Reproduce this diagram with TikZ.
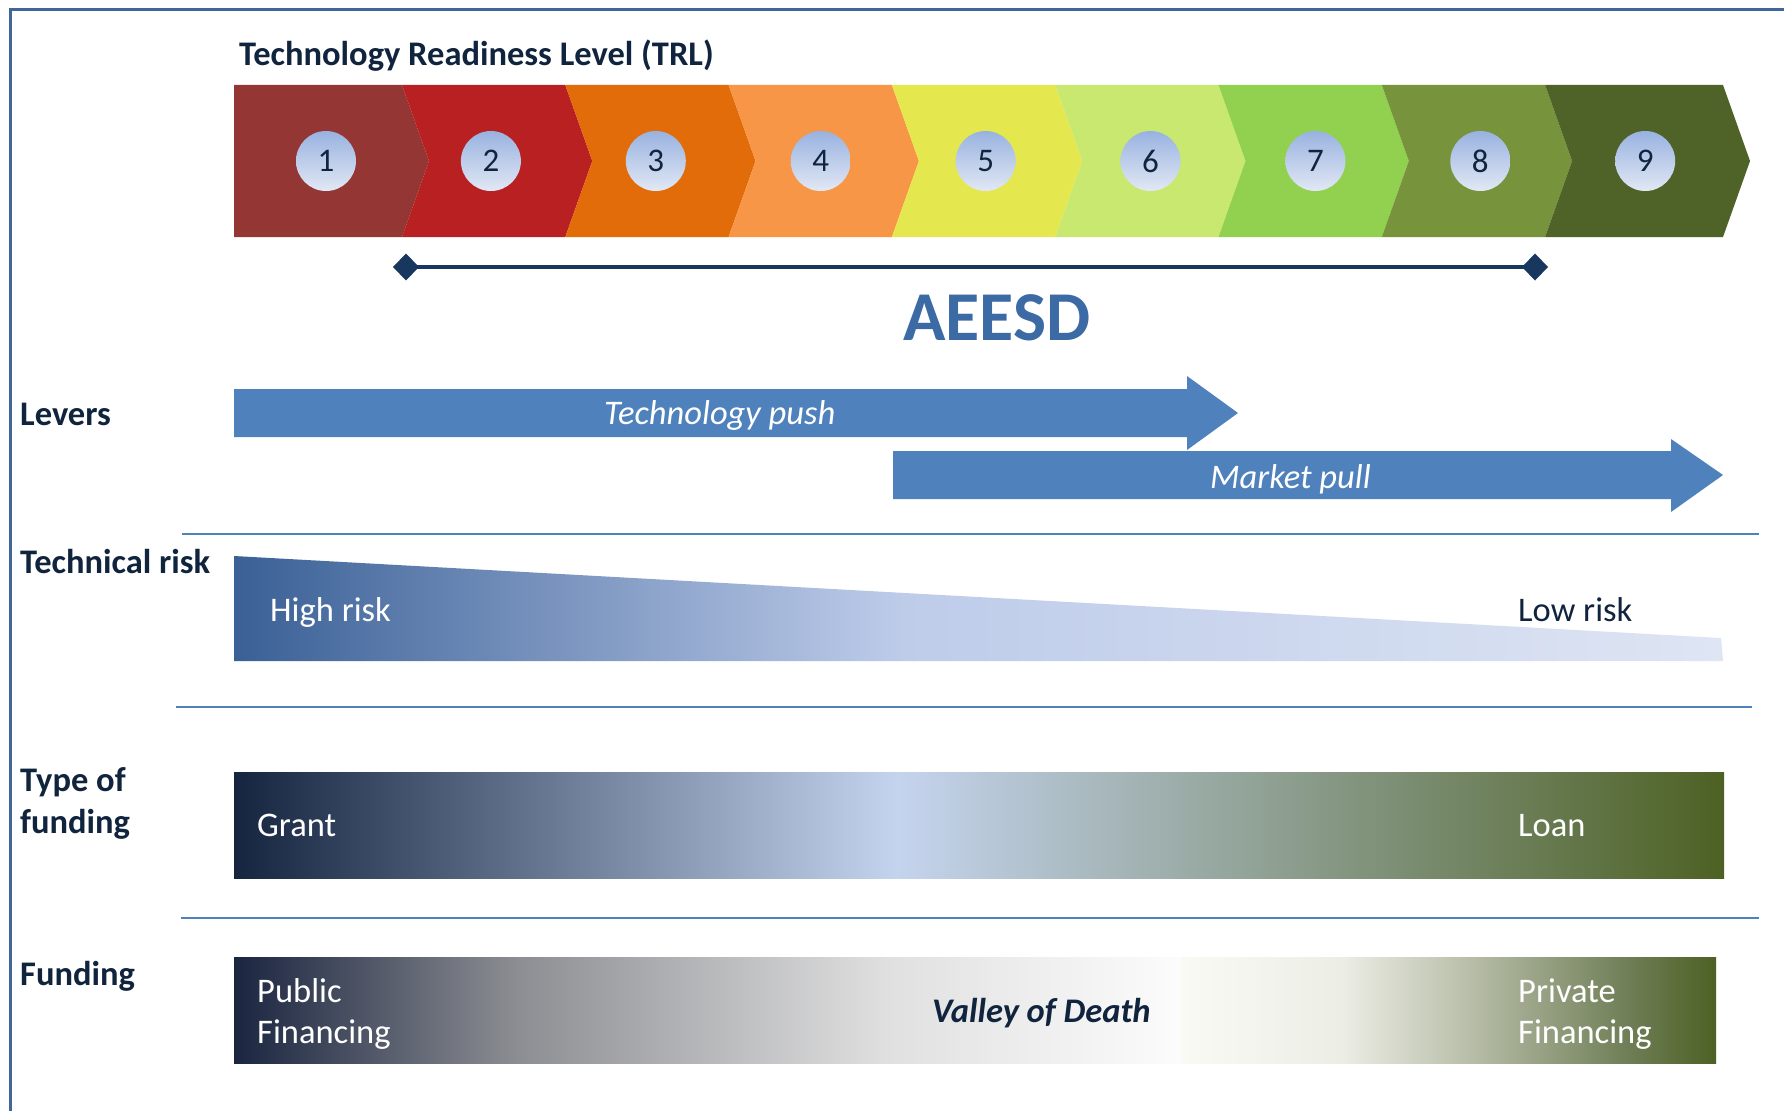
\documentclass[tikz,border=0pt]{standalone}
\usepackage{fontspec}
\setmainfont{Carlito}
\usetikzlibrary{arrows.meta}
\definecolor{frameblue}{RGB}{65,103,154}
\definecolor{navytext}{RGB}{16,36,62}
\definecolor{linenavy}{RGB}{23,55,94}
\definecolor{arrowblue}{RGB}{79,129,189}
\definecolor{aeesdblue}{RGB}{59,106,165}
\definecolor{chA}{RGB}{148,54,52}
\definecolor{chB}{RGB}{185,32,34}
\definecolor{chC}{RGB}{227,108,10}
\definecolor{chD}{RGB}{247,150,70}
\definecolor{chE}{RGB}{228,232,78}
\definecolor{chF}{RGB}{201,232,111}
\definecolor{chG}{RGB}{146,208,80}
\definecolor{chH}{RGB}{119,147,60}
\definecolor{chI}{RGB}{79,98,40}
\definecolor{circTop}{RGB}{152,178,224}
\definecolor{circBot}{RGB}{226,232,244}
% technical risk
\definecolor{trA}{RGB}{58,96,150}
\definecolor{trB}{RGB}{190,204,234}
\definecolor{trC}{RGB}{222,229,243}
\pgfdeclarehorizontalshading{riskshade}{100bp}{color(0bp)=(trA); color(25bp)=(trA); color(47.5bp)=(trB); color(75bp)=(trC); color(100bp)=(trC)}
% type of funding
\definecolor{tfA}{RGB}{21,36,63}
\definecolor{tfB}{RGB}{197,212,238}
\definecolor{tfC}{RGB}{77,97,36}
\pgfdeclarehorizontalshading{fundtype}{100bp}{color(0bp)=(tfA); color(25bp)=(tfA); color(47.25bp)=(tfB); color(75bp)=(tfC); color(100bp)=(tfC)}
% funding public part
\definecolor{puA}{RGB}{26,37,64}
\definecolor{puB}{RGB}{141,142,147}
\definecolor{puC}{RGB}{224,224,224}
\definecolor{puD}{RGB}{252,252,252}
\pgfdeclarehorizontalshading{pubshade}{100bp}{color(0bp)=(puA); color(25bp)=(puA); color(40bp)=(puB); color(59.5bp)=(puC); color(75bp)=(puD); color(100bp)=(puD)}
% funding private part
\definecolor{prA}{RGB}{249,250,244}
\definecolor{prB}{RGB}{236,237,229}
\definecolor{prC}{RGB}{190,195,175}
\definecolor{prD}{RGB}{110,125,85}
\definecolor{prE}{RGB}{77,97,36}
\pgfdeclarehorizontalshading{privshade}{100bp}{color(0bp)=(prA); color(25bp)=(prA); color(40bp)=(prB); color(50.75bp)=(prC); color(67bp)=(prD); color(75bp)=(prE); color(100bp)=(prE)}

\tikzset{
  txt/.style={inner sep=0pt, anchor=base west},
  lbl/.style={txt, text=navytext, font=\bfseries\fontsize{34.5}{40}\selectfont},
  bartxt/.style={txt, text=white, font=\fontsize{34.5}{40}\selectfont},
  darktxt/.style={txt, text=navytext, font=\fontsize{34.5}{40}\selectfont},
  arrtxt/.style={txt, text=white, font=\itshape\fontsize{34.5}{40}\selectfont},
  numcirc/.style={circle, minimum size=60pt, inner sep=0pt, top color=circTop, bottom color=circBot, text=navytext, font=\fontsize{33}{33}\selectfont},
  sepline/.style={draw=arrowblue, line width=2.5pt},
  leverarrow/.style={fill=arrowblue}
}

\begin{document}
\begin{tikzpicture}[x=1pt, y=-1pt]
\useasboundingbox (0,0) rectangle (1784,1110);
\fill[white] (0,0) rectangle (1784,1110);

% frame
\draw[frameblue, line width=3pt] (10,1120) -- (10,10) -- (1795,10);

% title
\node[lbl] (title) at (239,66) {Technology Readiness Level (TRL)};

% chevrons
\foreach \L/\R/\col/\n in {234/402/chA/0, 402/565.3/chB/27, 565.3/728.6/chC/27, 728.6/891.9/chD/27, 891.9/1055.2/chE/27, 1055.2/1218.5/chF/27, 1218.5/1381.8/chG/27, 1381.8/1545.1/chH/27, 1545.1/1723/chI/27}
  \fill[\col] (\L,85) -- (\R,85) -- ({\R+27},161) -- (\R,237) -- (\L,237) -- ({\L+\n},161) -- cycle;

\foreach \k in {1,...,9}
  \node[numcirc] (n\k) at ({326+164.9*(\k-1)},161) {\k};

% AEESD range
\coordinate (aL) at (393,267);
\coordinate (aR) at (1548,267);
\draw[linenavy, line width=4.5pt, {Diamond[length=26pt,width=27pt]}-{Diamond[length=26pt,width=27pt]}] (aL) -- (aR);
\node[txt, text=aeesdblue, font=\bfseries\fontsize{70}{70}\selectfont] (aeesd) at (903,340) {AEESD};

% levers
\node[lbl] (levers) at (20,425) {Levers};
\fill[leverarrow] (234,389) -- (1187,389) -- (1187,376) -- (1238,413) -- (1187,450) -- (1187,437) -- (234,437) -- cycle;
\node[arrtxt] (tpush) at (604,424) {Technology push};
\fill[leverarrow] (893,451) -- (1671,451) -- (1671,439) -- (1723,475) -- (1671,512) -- (1671,499) -- (893,499) -- cycle;
\node[arrtxt] (mpull) at (1210,488) {Market pull};

\draw[sepline] (182,534) -- (1759,534);

% technical risk
\node[lbl] (trisk) at (20,573) {Technical risk};
\shade[shading=riskshade] (234,556) -- (1721,638) -- (1723,661) -- (234,661) -- cycle;
\node[bartxt] (high) at (270,621) {High risk};
\node[darktxt] (low) at (1518,621) {Low risk};

\draw[sepline] (176,707) -- (1752,707);

% type of funding
\node[lbl] (tof1) at (20,791) {Type of};
\node[lbl] (tof2) at (20,833) {funding};
\shade[shading=fundtype] (234,772) rectangle (1724,878);
\node[bartxt] (grant) at (257,836) {Grant};
\node[bartxt] (loan) at (1518,836) {Loan};

\draw[sepline] (181,918) -- (1759,918);

% funding
\node[lbl] (fund) at (20,985) {Funding};
\shade[shading=pubshade] (234,957) rectangle (1181.5,1063);
\shade[shading=privshade] (1181,957) rectangle (1716,1063);
\node[bartxt] (pub1) at (257,1002) {Public};
\node[bartxt] (pub2) at (257,1043) {Financing};
\node[bartxt] (priv1) at (1518,1002) {Private};
\node[bartxt] (priv2) at (1518,1043) {Financing};
\node[txt, text=navytext, font=\bfseries\itshape\fontsize{34.5}{40}\selectfont] (valley) at (932,1022) {Valley of Death};
\end{tikzpicture}
\end{document}
